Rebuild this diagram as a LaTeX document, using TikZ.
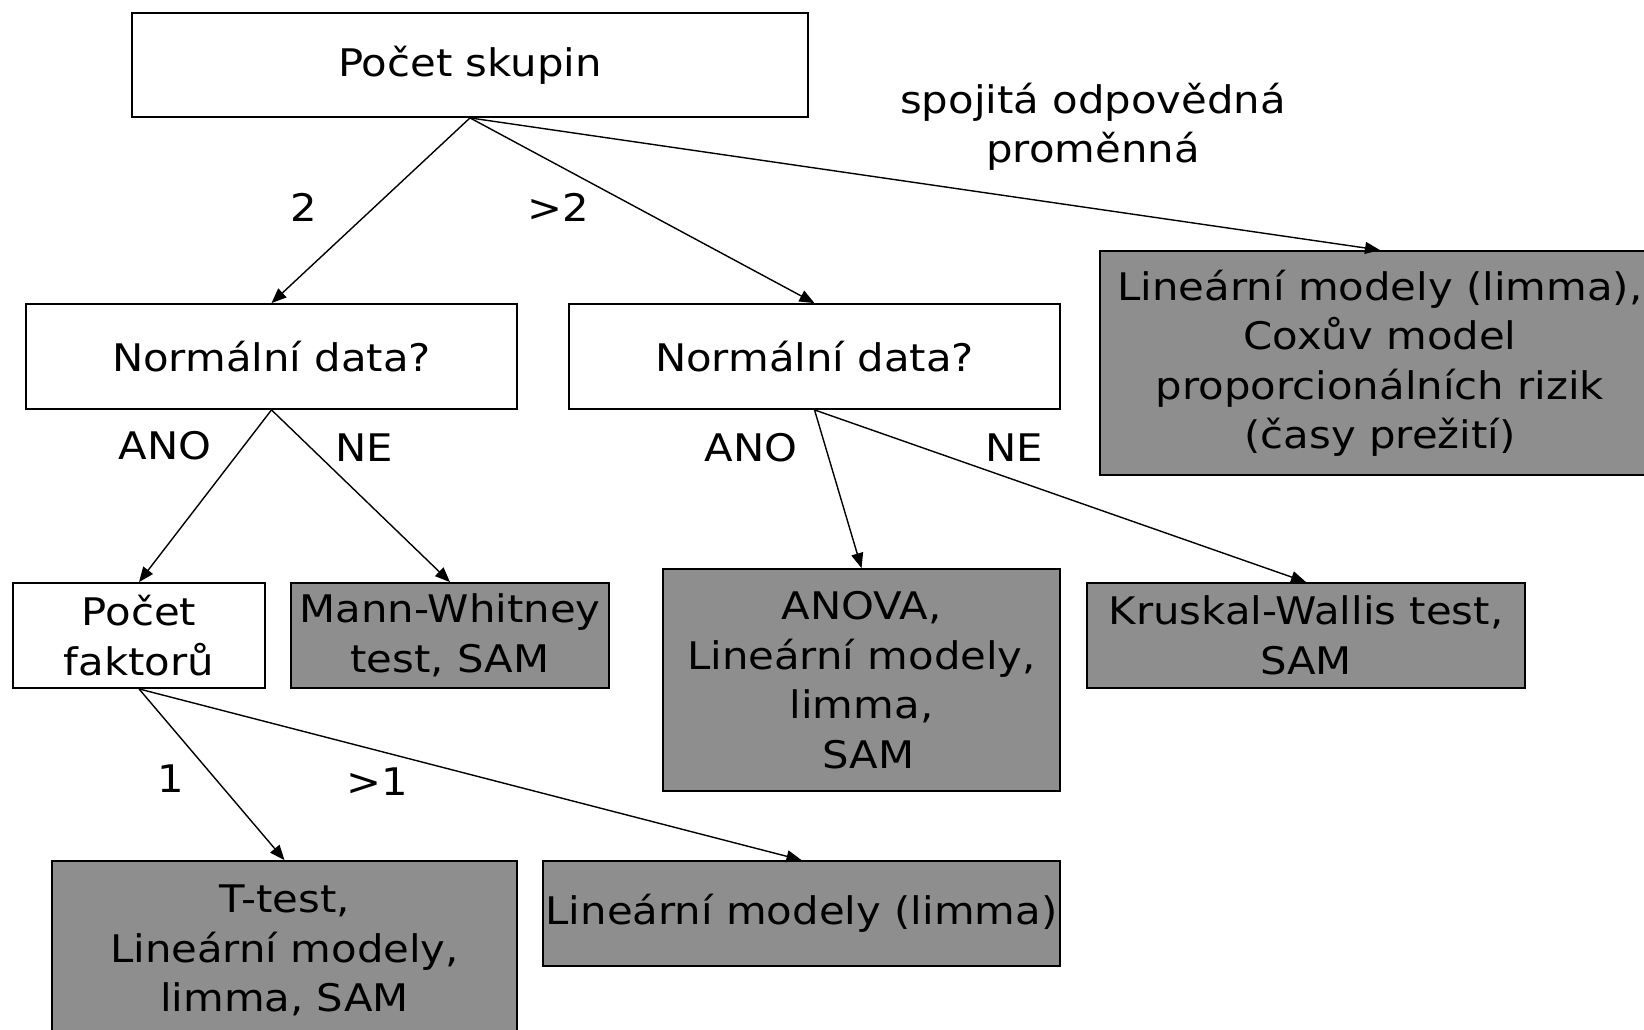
\documentclass[tikz,border=0pt]{standalone}
\usepackage{fontspec}
\setmainfont[FakeStretch=1.1]{DejaVu Sans}
\usetikzlibrary{arrows.meta}
\definecolor{boxgray}{RGB}{142,142,142}
\begin{document}
\begin{tikzpicture}[x=1pt,y=-1pt,
  every node/.style={font=\fontsize{38}{49.5}\selectfont, inner sep=0pt, align=center},
  wbox/.style={draw=black, line width=1.8pt, fill=white},
  gbox/.style={draw=black, line width=1.8pt, fill=boxgray},
  conn/.style={line width=1.4pt, -{Triangle[length=15pt,width=12pt]}},
  lbl/.style={}]
\useasboundingbox (0,0) rectangle (1644,1029);
\clip (0,0) rectangle (1644,1029);
\fill[white] (0,0) rectangle (1644,1029);

% decision boxes
\node[wbox, minimum width=676pt, minimum height=104pt] (top) at (470,65) {Počet skupin};
\node[wbox, minimum width=491pt, minimum height=105pt] (nl) at (271.5,356.5) {Normální data?};
\node[wbox, minimum width=491pt, minimum height=105pt] (nr) at (814.5,356.5) {Normální data?};
\node[wbox, minimum width=252pt, minimum height=105pt] (pf) at (139,635.5) {Počet\\faktorů};

% result boxes
\node[gbox, minimum width=560pt, minimum height=224pt] (cox) at (1380,363)
  {Lineární modely (limma),\\Coxův model\\proporcionálních rizik\\(časy prežití)};
\node[gbox, minimum width=318pt, minimum height=105pt] (mw) at (450,635.5) {Mann-Whitney\\test, SAM};
\node[gbox, minimum width=397pt, minimum height=222pt] (anova) at (861.5,680)
  {ANOVA,\\Lineární modely,\\limma,\\\ SAM};
\node[gbox, minimum width=438pt, minimum height=105pt] (kw) at (1306,635.5) {Kruskal-Wallis test,\\SAM};
\node[gbox, minimum width=465pt, minimum height=179pt] (tt) at (284.5,950.5)
  {T-test,\\Lineární modely,\\limma, SAM};
\node[gbox, minimum width=517pt, minimum height=105pt] (lm) at (801.5,913.5) {Lineární modely (limma)};

% connectors
\draw[conn] (top.south) -- (nl.north);
\draw[conn] (top.south) -- (nr.north);
\draw[conn] (top.south) -- (cox.north);
\draw[conn] (nl.south) -- (pf.north);
\draw[conn] (nl.south) -- (mw.north);
\draw[conn] (nr.south) -- (anova.north);
\draw[conn] (nr.south) -- (kw.north);
\draw[conn] (pf.south) -- (tt.north);
\draw[conn] (pf.south) -- (lm.north);

% branch labels
\node[lbl] (l2) at (304,207) {2};
\node[lbl] (lgt2) at (558,207) {>2};
\node[lbl] (lcont) at (1093,127) {spojitá odpovědná\\proměnná};
\node[lbl] (lano1) at (165,446) {ANO};
\node[lbl] (lne1) at (364,448) {NE};
\node[lbl] (lano2) at (751,448) {ANO};
\node[lbl] (lne2) at (1014,448) {NE};
\node[lbl] (l1) at (171,779) {1};
\node[lbl] (lgt1) at (377,782) {>1};
\end{tikzpicture}
\end{document}
